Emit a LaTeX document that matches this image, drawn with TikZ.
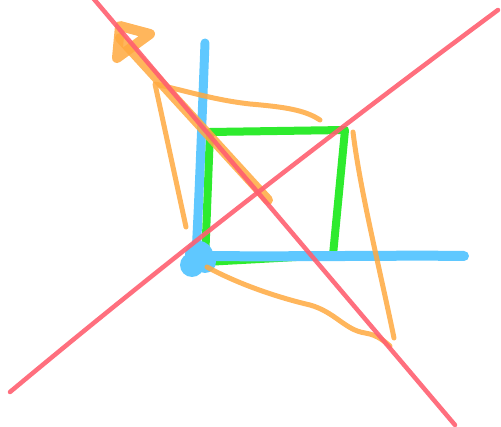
\documentclass[tikz,border=0pt]{standalone}
\usetikzlibrary{arrows.meta}
\definecolor{sred}{HTML}{FF5F70}
\definecolor{sorange}{HTML}{FFA940}
\definecolor{sgreen}{HTML}{2EEB2E}
\definecolor{sblue}{HTML}{5FC8FF}
\tikzset{
  pen/.style={line cap=round,line join=round},
  redpen/.style={pen,draw=sred,line width=4.5pt,draw opacity=0.9},
  orangepen/.style={pen,draw=sorange,line width=5pt,draw opacity=0.85},
  orangethick/.style={pen,draw=sorange,line width=10pt,draw opacity=0.85},
  greenpen/.style={pen,draw=sgreen,line width=8pt},
  bluepen/.style={pen,draw=sblue,line width=9pt},
}
\begin{document}
\begin{tikzpicture}[x=1pt,y=-1pt]
\useasboundingbox (0,0) rectangle (501,427);
% green square
\draw[greenpen] (210,132) -- (345,130) -- (333,255) -- (205,262) -- cycle;
% blue axes
\draw[bluepen] (205,43) .. controls (202,120) and (199,200) .. (196,255);
\draw[bluepen,line width=10pt] (200,256) .. controls (300,257) and (400,255) .. (464,256);
\fill[sblue] (199,255) circle (14);
\fill[sblue] (192,265) circle (12);
\fill[sblue] (205,262) circle (11);
% orange strokes
\draw[orangethick] (268,200) -- (120,38);
\draw[orangethick] (120,26) -- (150,34) -- (117,58) -- cycle;
\draw[orangepen] (186,227) -- (155,84) .. controls (190,92) and (215,100) .. (250,104)
  .. controls (285,107) and (305,110) .. (320,120);
\draw[orangepen] (353,132) .. controls (360,190) and (380,270) .. (394,338);
\draw[orangepen] (207,267) .. controls (240,285) and (280,298) .. (310,305)
  .. controls (335,312) and (345,330) .. (365,333)
  .. controls (378,335) and (385,342) .. (390,346);
% red lines
\draw[redpen] (93,-2) -- (455,425);
\draw[redpen] (10,392) .. controls (180,250) and (350,120) .. (498,10);
\end{tikzpicture}
\end{document}
